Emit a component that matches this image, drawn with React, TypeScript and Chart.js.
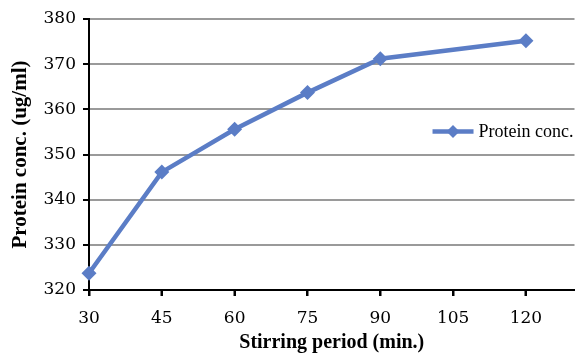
import React, { useEffect, useRef } from "react";
import { Chart, registerables } from "chart.js";

Chart.register(...registerables);

const periods = [30, 45, 60, 75, 90, 120];
const proteinConc = [323.7, 346.1, 355.6, 363.7, 371.2, 375.2];
const xTicks = [30, 45, 60, 75, 90, 105, 120];
const seriesLabel = "Protein conc.";
const xTitle = "Stirring period (min.)";
const yTitle = "Protein conc. (ug/ml)";

const LINE_COLOR = "#5b7dc6";

const legendPlugin = {
  id: "overlayLegend",
  afterDraw(chart: any) {
    const ctx = chart.ctx;
    const area = chart.chartArea;
    const y = area.top + (area.bottom - area.top) * 0.415;
    ctx.save();
    ctx.font = "18px 'Liberation Serif'";
    const tw = ctx.measureText(seriesLabel).width;
    const x1 = area.right - tw - 6;
    const x0 = x1 - 41;
    ctx.strokeStyle = LINE_COLOR;
    ctx.lineWidth = 4.5;
    ctx.beginPath();
    ctx.moveTo(x0, y);
    ctx.lineTo(x1, y);
    ctx.stroke();
    const cx = (x0 + x1) / 2;
    const r = 6.5;
    ctx.fillStyle = LINE_COLOR;
    ctx.beginPath();
    ctx.moveTo(cx, y - r);
    ctx.lineTo(cx + r, y);
    ctx.lineTo(cx, y + r);
    ctx.lineTo(cx - r, y);
    ctx.closePath();
    ctx.fill();
    ctx.fillStyle = "#000";
    ctx.textBaseline = "middle";
    ctx.textAlign = "left";
    ctx.fillText(seriesLabel, x1 + 5, y + 1);
    ctx.restore();
  },
};

const tickMarkPlugin = {
  id: "tickMarks",
  afterDatasetsDraw(chart: any) {
    const ctx = chart.ctx;
    const xs = chart.scales.x;
    const ys = chart.scales.y;
    const area = chart.chartArea;
    ctx.save();
    ctx.strokeStyle = "#000";
    ctx.lineWidth = 2;
    ctx.beginPath();
    xs.ticks.forEach((t: any) => {
      const px = Math.round(xs.getPixelForValue(t.value));
      ctx.moveTo(px, area.bottom);
      ctx.lineTo(px, area.bottom + 6);
    });
    ys.ticks.forEach((t: any) => {
      const py = Math.round(ys.getPixelForValue(t.value));
      ctx.moveTo(area.left, py);
      ctx.lineTo(area.left - 6, py);
    });
    ctx.stroke();
    ctx.restore();
  },
};

export default function App() {
  const ref = useRef<HTMLCanvasElement>(null);
  useEffect(() => {
    if (!ref.current) return;
    const chart = new Chart(ref.current, {
      type: "line",
      data: {
        datasets: [
          {
            label: seriesLabel,
            data: periods.map((p, i) => ({ x: p, y: proteinConc[i] })),
            borderColor: LINE_COLOR,
            backgroundColor: LINE_COLOR,
            borderWidth: 4.5,
            pointStyle: "rectRot",
            pointRadius: 7.5,
            pointHoverRadius: 7.5,
            pointBorderWidth: 0,
            tension: 0,
            clip: false as any,
          },
        ],
      },
      options: {
        animation: false,
        responsive: true,
        maintainAspectRatio: false,
        layout: { padding: { top: 19, right: 1, left: 0, bottom: 0 } },
        plugins: {
          legend: { display: false },
          tooltip: { enabled: false },
        },
        scales: {
          x: {
            type: "linear",
            min: 30,
            max: 130,
            afterBuildTicks: (scale: any) => {
              scale.ticks = xTicks.map((v) => ({ value: v }));
            },
            afterFit: (scale: any) => {
              scale.height = 64;
            },
            ticks: {
              color: "#000",
              font: { family: "'DejaVu Serif'", size: 17 },
              padding: 12,
              maxRotation: 0,
              autoSkip: false,
            },
            grid: {
              drawOnChartArea: false,
              drawTicks: true,
              tickLength: 6,
              tickColor: "#000",
              tickWidth: 2,
            },
            border: { display: true, color: "#000", width: 2 },
            title: {
              display: true,
              text: xTitle,
              color: "#000",
              font: { family: "'Liberation Serif'", size: 20, weight: "bold" },
              padding: { top: 0, bottom: -1 },
            },
          },
          y: {
            type: "linear",
            min: 320,
            max: 380,
            afterFit: (scale: any) => {
              scale.width = 89;
            },
            ticks: {
              stepSize: 10,
              color: "#000",
              font: { family: "'DejaVu Serif'", size: 17 },
              padding: 7,
            },
            grid: {
              color: (c: any) =>
                c.tick && c.tick.value === 320 ? "rgba(0,0,0,0)" : "#9a9a9a",
              lineWidth: 2,
              tickLength: 6,
              tickColor: "#000",
              tickWidth: 2,
            },
            border: { display: true, color: "#000", width: 2 },
            title: {
              display: true,
              text: yTitle,
              color: "#000",
              font: { family: "'Liberation Serif'", size: 21, weight: "bold" },
              padding: { top: 8, bottom: 0 },
            },
          },
        },
      },
      plugins: [legendPlugin, tickMarkPlugin],
    });
    return () => chart.destroy();
  }, []);
  return (
    <div
      style={{
        position: "fixed",
        left: 0,
        top: 0,
        width: 582,
        height: 354,
        background: "#fff",
      }}
    >
      <canvas ref={ref} />
    </div>
  );
}
